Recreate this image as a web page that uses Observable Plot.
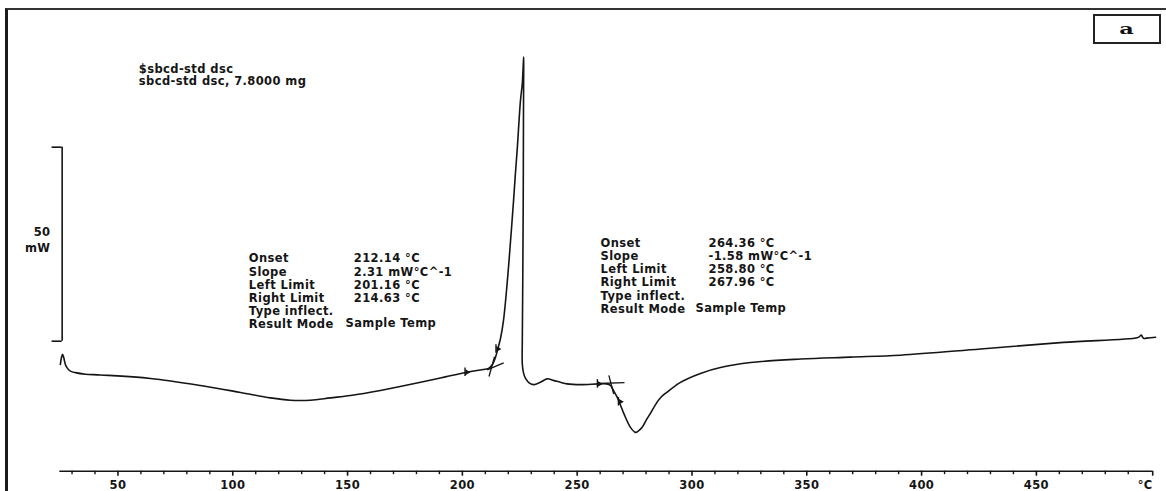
<!DOCTYPE html>
<html><head><meta charset="utf-8">
<script src="https://cdn.jsdelivr.net/npm/d3@7"></script>
<script src="https://cdn.jsdelivr.net/npm/@observablehq/plot@0.6"></script>
<style>
html,body{margin:0;padding:0;background:#fff;}
#wrap{position:relative;width:1166px;height:491px;overflow:hidden;}
#wrap svg{display:block;}
#border{position:absolute;left:5px;top:8px;width:1200px;height:520px;border-left:3px solid #1b1b1b;border-top:2px solid #333;pointer-events:none;}
#tag{position:absolute;left:1093px;top:14px;width:64px;height:26px;border:2px solid #222;display:flex;align-items:center;justify-content:center;}
#tag span{font-family:"DejaVu Serif",serif;font-weight:bold;font-size:14px;transform:scaleX(1.6);display:inline-block;color:#111;}
svg text{letter-spacing:0.4px;}
</style></head><body><div id="wrap"><div id="border"></div><div id="tag"><span>a</span></div></div>
<script>
// DSC curve (sample temperature °C, heat flow mW, arbitrary zero)
const temperatureC = [24.9,25.4,25.9,26.5,27.1,28.0,29.3,31.5,35.8,42.4,64.2,85.9,103.4,116.4,125.1,133.8,142.6,151.3,164.3,181.8,192.6,202.1,207.9,211.4,213.1,214.4,215.7,216.6,217.9,219.6,221.0,222.3,223.1,224.0,224.6,225.3,226.1,226.5,226.7,226.7,226.6,226.5,226.3,226.1,226.1,226.6,227.5,229.2,231.1,232.7,234.0,236.9,239.7,242.7,245.6,251.4,259.3,262.8,264.5,265.8,267.4,270.3,273.2,275.4,276.7,278.3,280.2,281.9,284.8,286.7,289.2,295.0,303.7,312.4,325.5,347.3,369.0,390.8,425.7,461.8,493.9,494.9,495.7,496.2,496.8,498.0,501.9];
const heatFlowMW = [-6.0,-4.2,-3.4,-4.5,-6.0,-7.0,-7.7,-8.1,-8.5,-8.7,-9.6,-11.4,-13.2,-14.6,-15.2,-15.2,-14.6,-14.0,-12.7,-10.6,-9.2,-8.0,-7.4,-7.0,-6.0,-4.2,-1.4,0.7,5.3,15.6,26.0,36.3,43.2,50.4,56.1,62.0,66.4,71.1,73.2,69.8,56.9,36.3,15.6,0.2,-5.8,-8.1,-9.6,-10.8,-11.2,-10.9,-10.6,-9.7,-10.1,-10.6,-11.0,-11.2,-11.0,-11.0,-11.4,-12.7,-14.4,-18.6,-22.2,-23.5,-23.1,-22.2,-20.2,-18.6,-15.7,-14.3,-13.1,-10.6,-8.3,-6.8,-5.5,-4.6,-4.1,-3.6,-2.0,-0.3,0.9,1.2,1.6,1.1,0.7,0.8,1.0];

// onset construction lines (tangents)
const tangentStartT  = [210.8, 211.6, 259.0, 263.8];
const tangentStartMW = [-7.4, -9.1, -10.9, -8.8];
const tangentEndT    = [218.0, 214.0, 270.6, 265.9];
const tangentEndMW   = [-5.6, -4.0, -10.7, -13.6];

// integration limits markers
const limitT  = [201.16, 214.63, 258.80, 267.96];
const limitMW = [-8.0, -2.0, -11.0, -15.6];

// axis ticks
const minorTicks = [30,40,60,70,80,90,110,120,130,140,160,170,180,190,210,220,230,240,260,270,280,290,310,320,330,340,360,370,380,390,410,420,430,440,460,470,480,490];
const majorTicks = [50,100,150,200,250,300,350,400,450];
const majorTickLabels = ["50","100","150","200","250","300","350","400","450"];
const endTick = [500];
const endTickLabel = "°C";

// texts
const headerLines = ["$sbcd-std dsc", "sbcd-std dsc, 7.8000 mg"];
const scaleBarMW = [0, 50];
const scaleBarLabel = ["50", "mW"];
const resultLabels = ["Onset","Slope","Left Limit","Right Limit","Type inflect.","Result Mode"];
const result1Values = ["212.14 °C","2.31 mW°C^-1","201.16 °C","214.63 °C"];
const result2Values = ["264.36 °C","-1.58 mW°C^-1","258.80 °C","267.96 °C"];
const resultMode = "Sample Temp";

const curve = temperatureC.map((t, i) => ({T: t, mW: heatFlowMW[i]}));
const tangents = tangentStartT.map((t, i) => ({x1: t, y1: tangentStartMW[i], x2: tangentEndT[i], y2: tangentEndMW[i]}));
const limits = limitT.map((t, i) => ({T: t, mW: limitMW[i]}));
const labelOf = new Map(majorTicks.map((t, i) => [t, majorTickLabels[i]]));

const ink = "#151515";
const lh = 13.2 / 11.5;

const chart = Plot.plot({
  width: 1166,
  height: 491,
  marginLeft: 59.6,
  marginRight: 15.3,
  marginTop: 0,
  marginBottom: 20.3,
  x: {domain: [24.8, 500]},
  y: {domain: [-33.5, 87.8], axis: null},
  style: {fontFamily: "'DejaVu Sans', sans-serif", fontSize: "11.5px", fontWeight: "bold", color: ink, background: "transparent"},
  marks: [
    Plot.frame({anchor: "bottom", stroke: ink, strokeWidth: 1.5}),
    Plot.axisX(minorTicks, {tickSize: 3.5, tickFormat: () => "", label: null, stroke: ink, strokeWidth: 1.4}),
    Plot.axisX(majorTicks, {tickSize: 5, tickPadding: 5, tickFormat: d => labelOf.get(d), label: null, stroke: ink, strokeWidth: 1.6, fill: ink}),
    Plot.axisX(endTick, {tickSize: 5, tickPadding: 5, tickFormat: () => endTickLabel, textAnchor: "end", dx: 1.5, label: null, stroke: ink, strokeWidth: 1.6, fill: ink}),
    // scale bar
    Plot.ruleX([scaleBarMW], {x: () => 25.7, y1: d => d[0], y2: d => d[1], stroke: ink, strokeWidth: 1.6}),
    Plot.ruleY(scaleBarMW, {x1: () => 21.3, x2: () => 25.7, stroke: ink, strokeWidth: 1.6}),
    Plot.text([scaleBarLabel.join("\n")], {x: () => 20.6, y: () => 26.4, textAnchor: "end", lineAnchor: "middle", lineHeight: 1.45, fill: ink}),
    // curve
    Plot.line(curve, {x: "T", y: "mW", stroke: ink, strokeWidth: 1.6, curve: "catmull-rom"}),
    // tangents
    Plot.link(tangents, {x1: "x1", y1: "y1", x2: "x2", y2: "y2", stroke: ink, strokeWidth: 1.3}),
    // limit markers
    Plot.ruleX(limits, {x: "T", y1: d => d.mW - 1.1, y2: d => d.mW + 1.1, stroke: ink, strokeWidth: 1.4}),
    Plot.dot(limits, {x: "T", y: "mW", symbol: "triangle", r: 2.2, fill: ink, stroke: null, rotate: 90, dx: 2}),
    // header
    Plot.text([headerLines.join("\n")], {frameAnchor: "top-left", dx: 78.7, dy: 64.2, lineAnchor: "top", textAnchor: "start", lineHeight: 1.02, fill: ink}),
    // result block 1
    Plot.text([resultLabels.join("\n")], {frameAnchor: "top-left", dx: 188.7, dy: 252.6, lineAnchor: "top", textAnchor: "start", lineHeight: lh, fill: ink}),
    Plot.text([result1Values.join("\n")], {frameAnchor: "top-left", dx: 293.7, dy: 252.6, lineAnchor: "top", textAnchor: "start", lineHeight: lh, fill: ink}),
    Plot.text([resultMode], {frameAnchor: "top-left", dx: 285.4, dy: 252.6 + 5 * 13.2, lineAnchor: "top", textAnchor: "start", fill: ink}),
    // result block 2
    Plot.text([resultLabels.join("\n")], {frameAnchor: "top-left", dx: 540.4, dy: 236.9, lineAnchor: "top", textAnchor: "start", lineHeight: lh, fill: ink}),
    Plot.text([result2Values.join("\n")], {frameAnchor: "top-left", dx: 648.4, dy: 236.9, lineAnchor: "top", textAnchor: "start", lineHeight: lh, fill: ink}),
    Plot.text([resultMode], {frameAnchor: "top-left", dx: 635.4, dy: 236.9 + 5 * 13.2, lineAnchor: "top", textAnchor: "start", fill: ink})
  ]
});
document.getElementById("wrap").prepend(chart);
</script></body></html>
